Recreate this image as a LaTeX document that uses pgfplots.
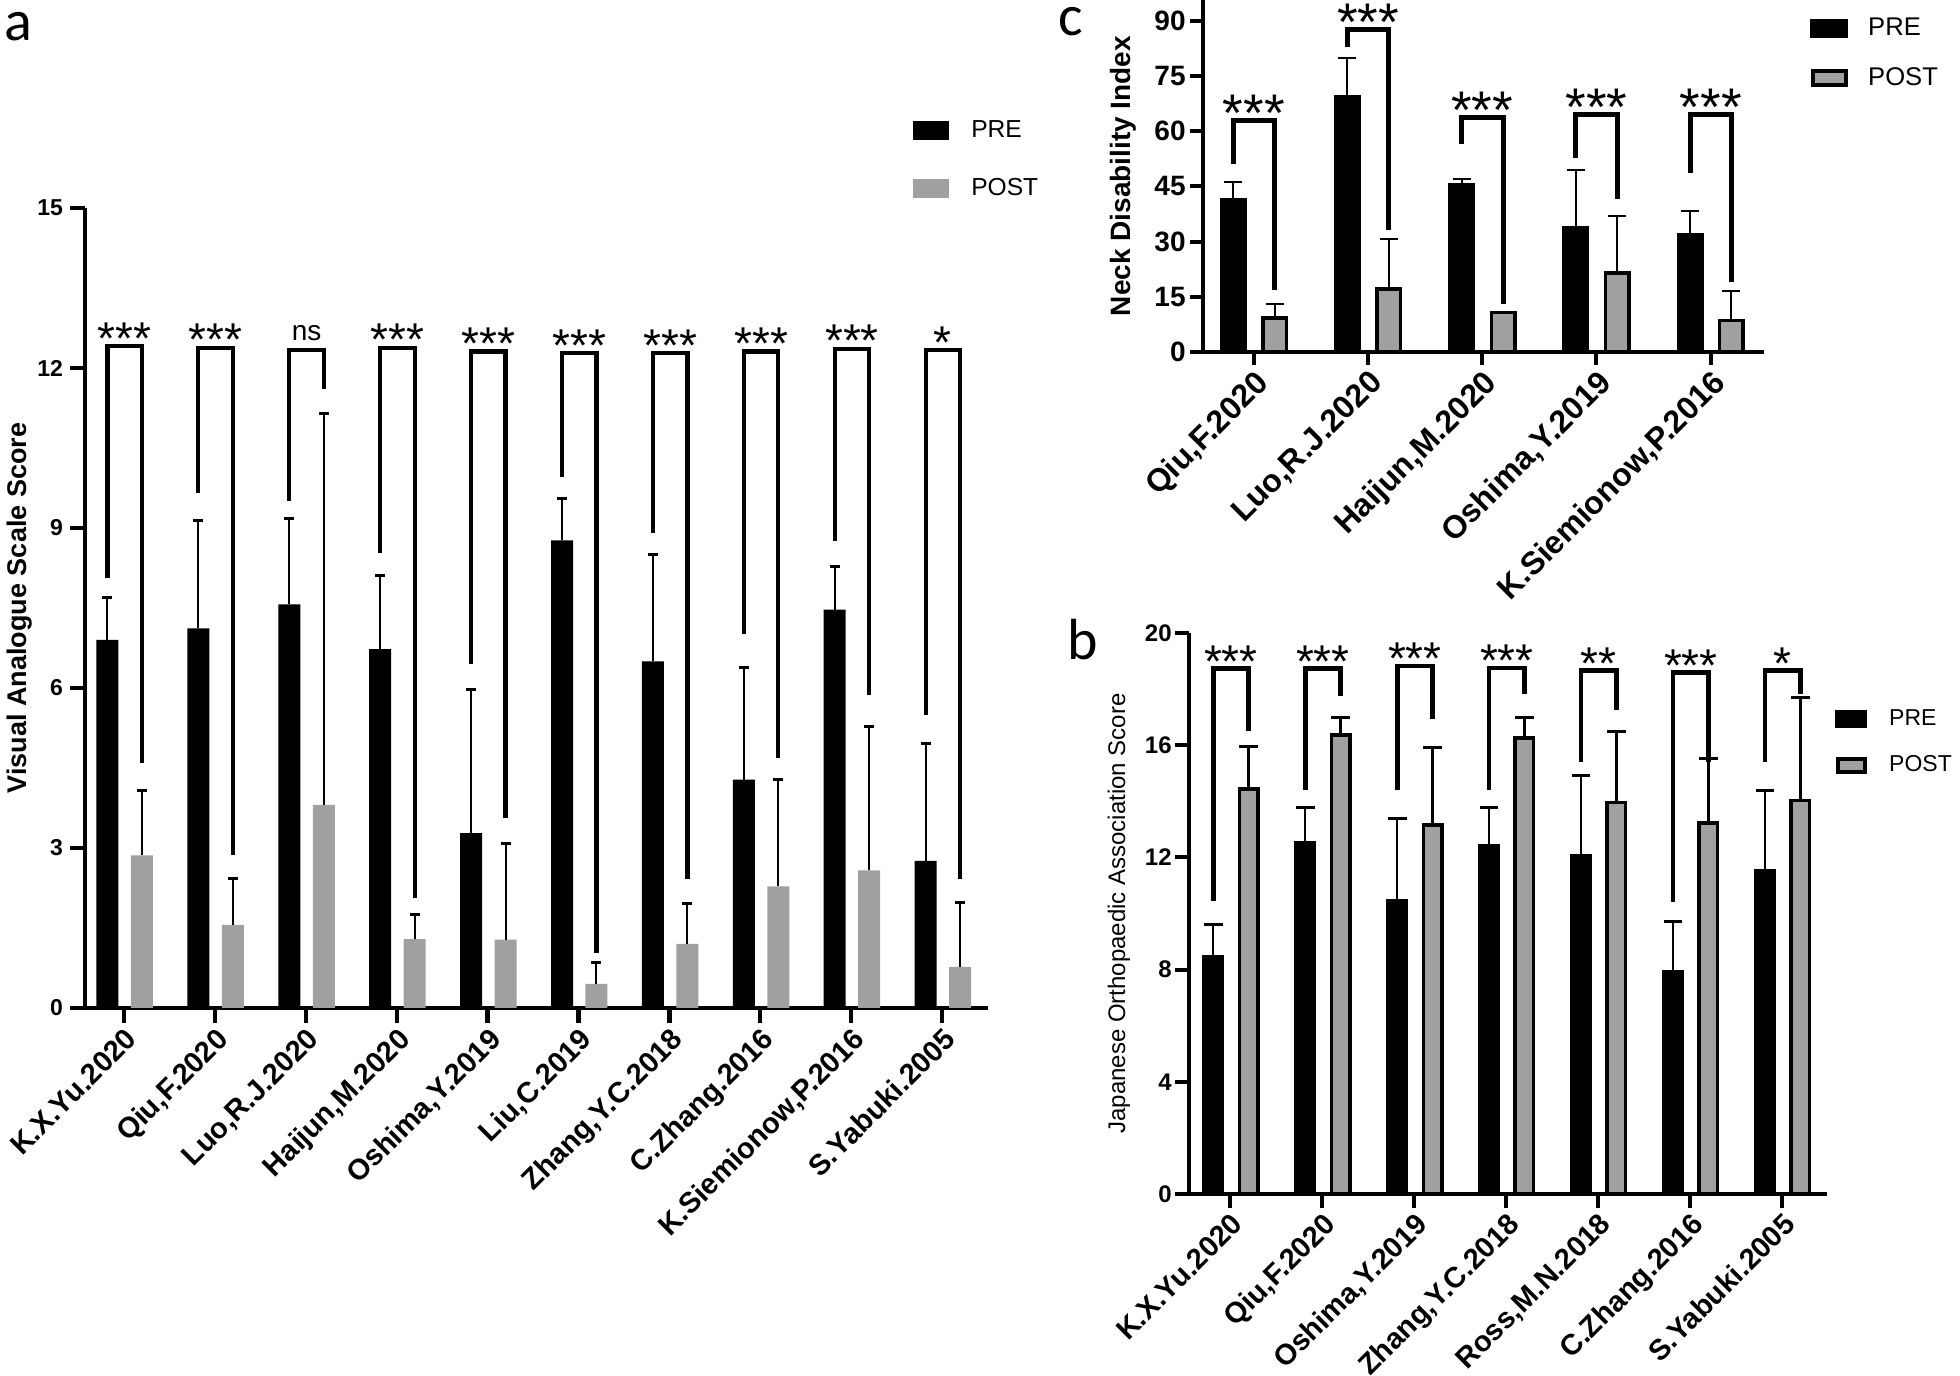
\documentclass[border=0pt]{standalone}
\usepackage{fontspec}
\setmainfont{Liberation Sans}
\newfontfamily\calib{Carlito}
\usepackage{pgfplots}
\pgfplotsset{compat=1.18}
\usepackage{pgfplotstable}
\definecolor{pg}{RGB}{160,160,160}
\newcommand{\fs}[1]{\fontsize{#1}{#1}\selectfont}

\pgfplotstableread{
x pre pretop post posttop
0 6.90 7.69 2.86 4.08
1 7.12 9.14 1.56 2.42
2 7.57 9.18 3.81 11.15
3 6.73 8.10 1.29 1.75
4 3.28 5.98 1.28 3.09
5 8.77 9.56 0.45 0.86
6 6.50 8.51 1.20 1.95
7 4.28 6.39 2.28 4.28
8 7.47 8.28 2.58 5.28
9 2.76 4.96 0.77 1.98
}\tabA

\pgfplotstableread{
x pre pretop post posttop
0 41.5 46.2 9.25 13.0
1 69.4 80.0 17.1 30.8
2 45.5 46.9 10.7 10.9
3 33.7 49.4 21.5 36.9
4 31.9 38.3 8.6 16.6
}\tabC

\pgfplotstableread{
x pre pretop post posttop
0 8.46 9.59 14.43 15.94
1 12.52 13.79 16.36 16.98
2 10.44 13.40 13.15 15.90
3 12.41 13.78 16.26 17.00
4 12.06 14.91 13.96 16.50
5 7.94 9.70 13.23 15.51
6 11.54 14.39 14.03 17.70
}\tabB

% bracket macros: #1 group, #2 top, #3 left leg end, #4 right leg end, #5 yshift, #6 text
\newcommand{\brA}[6]{%
 \draw[line width=2.1pt, line join=miter] ([xshift=-8.25pt]axis cs:#1,#3) -- ([xshift=-8.25pt]axis cs:#1,#2) -- ([xshift=9pt]axis cs:#1,#2) -- ([xshift=9pt]axis cs:#1,#4);
 \node[anchor=base, inner sep=0pt] at ([xshift=0.4pt, yshift=#5]axis cs:#1,#2) {#6};}
\newcommand{\brC}[6]{%
 \draw[line width=2.5pt, line join=miter] ([xshift=-10.25pt]axis cs:#1,#3) -- ([xshift=-10.25pt]axis cs:#1,#2) -- ([xshift=10.45pt]axis cs:#1,#2) -- ([xshift=10.45pt]axis cs:#1,#4);
 \node[anchor=base, inner sep=0pt] at ([xshift=0.1pt, yshift=#5]axis cs:#1,#2) {#6};}
\newcommand{\brB}[6]{%
 \draw[line width=2.2pt, line join=miter] ([xshift=-8.35pt]axis cs:#1,#3) -- ([xshift=-8.35pt]axis cs:#1,#2) -- ([xshift=9.25pt]axis cs:#1,#2) -- ([xshift=9.25pt]axis cs:#1,#4);
 \node[anchor=base, inner sep=0pt] at ([xshift=0.45pt, yshift=#5]axis cs:#1,#2) {#6};}

\newcommand{\stA}{\fs{23}***}
\newcommand{\stC}{\fs{26.5}***}

\begin{document}
\begin{tikzpicture}
\useasboundingbox (0pt,0pt) rectangle (980pt,688pt);

% ---------------- panel a ----------------
\begin{axis}[
 at={(42.5pt,184pt)}, anchor=south west,
 width=451.5pt, height=400pt, scale only axis,
 xmin=-0.429, xmax=9.505, ymin=0, ymax=15,
 axis lines=left, axis line style={-, line width=2.1pt},
 tick align=outside, major tick length=7.5pt,
 tick style={line width=2.1pt, black},
 xtick={0,...,9},
 xticklabels={{K.X.Yu.2020},{Qiu,F.2020},{Luo,R.J.2020},{Haijun,M.2020},{Oshima,Y.2019},{Liu,C.2019},{Zhang,Y.C.2018},{C.Zhang.2016},{K.Siemionow,P.2016},{S.Yabuki.2005}},
 ytick={0,3,...,15},
 /pgf/number format/assume math mode=true,
 yticklabel style={font=\bfseries\fs{11.5}},
 xticklabel style={font=\bfseries\fs{14.5}, rotate=45, anchor=north east, inner sep=1pt},
 ylabel={Visual Analogue Scale Score},
 every axis y label/.style={at={(axis description cs:-0.073,0.5)}, rotate=90, anchor=center, font=\bfseries\fs{13.5}},
 clip=false,
 legend cell align=left,
 legend style={draw=none, fill=none, at={(0.917,1.11)}, anchor=north west, inner sep=0pt, row sep=19pt, column sep=11pt, font=\fs{12.3}, nodes={inner sep=0pt}},
]
\addplot[ybar, bar width=11pt, bar shift=0pt, fill=black, draw=none, forget plot,
 error bars/.cd, y dir=plus, y explicit, error bar style={line width=1pt, black}, error mark options={rotate=90, line width=1.5pt, mark size=2.5pt, black}]
 table[x expr=\thisrow{x}-0.1815, y=pre, y error expr=\thisrow{pretop}-\thisrow{pre}] \tabA;
\addplot[ybar, bar width=11pt, bar shift=0pt, fill=pg, draw=none, forget plot,
 error bars/.cd, y dir=plus, y explicit, error bar style={line width=1pt, black}, error mark options={rotate=90, line width=1.5pt, mark size=2.5pt, black}]
 table[x expr=\thisrow{x}+0.198, y=post, y error expr=\thisrow{posttop}-\thisrow{post}] \tabA;
\addlegendimage{legend image code/.code={\fill[black] (0pt,-4.5pt) rectangle (17.5pt,4.5pt);}}
\addlegendentry{PRE}
\addlegendimage{legend image code/.code={\fill[pg] (0pt,-4.5pt) rectangle (17.5pt,4.5pt);}}
\addlegendentry{POST}
\brA{0}{12.41}{8.07}{4.59}{-4pt}{\stA}
\brA{1}{12.38}{9.65}{2.87}{-4pt}{\stA}
\brA{2}{12.33}{9.50}{11.60}{5pt}{\fs{14}ns}
\brA{3}{12.38}{8.53}{2.06}{-4pt}{\stA}
\brA{4}{12.31}{6.45}{3.56}{-4pt}{\stA}
\brA{5}{12.28}{9.95}{1.03}{-4pt}{\stA}
\brA{6}{12.28}{8.90}{2.41}{-4pt}{\stA}
\brA{7}{12.31}{7.01}{4.68}{-4pt}{\stA}
\brA{8}{12.36}{8.75}{5.86}{-4pt}{\stA}
\brA{9}{12.33}{5.50}{2.41}{-4pt}{\fs{23}*}
\end{axis}

% ---------------- panel c ----------------
\begin{axis}[
 at={(601.5pt,512pt)}, anchor=south west,
 width=280.3pt, height=175.85pt, scale only axis,
 xmin=-0.444, xmax=4.465, ymin=0, ymax=95.6,
 axis lines=left, axis line style={-, line width=2pt},
 tick align=outside, major tick length=6.5pt,
 tick style={line width=2pt, black},
 xtick={0,...,4},
 xticklabels={{Qiu,F.2020},{Luo,R.J.2020},{Haijun,M.2020},{Oshima,Y.2019},{K.Siemionow,P.2016}},
 ytick={0,15,...,90},
 /pgf/number format/assume math mode=true,
 yticklabel style={font=\bfseries\fs{14}, inner sep=2pt},
 xticklabel style={font=\bfseries\fs{16}, rotate=45, anchor=north east, inner sep=1pt},
 ylabel={Neck Disability Index},
 every axis y label/.style={at={(axis description cs:-0.143,0.5)}, rotate=90, anchor=center, font=\bfseries\fs{14}},
 clip=false,
 legend cell align=left,
 legend style={draw=none, fill=none, at={(1.0828,0.9517)}, anchor=north west, inner sep=0pt, row sep=14.75pt, column sep=10pt, font=\fs{12.8}, nodes={inner sep=0pt}},
]
\addplot[ybar, bar width=11.75pt, bar shift=0pt, fill=black, draw=black, line width=1.75pt, forget plot,
 error bars/.cd, y dir=plus, y explicit, error bar style={line width=1pt, black}, error mark options={rotate=90, line width=1pt, mark size=4.5pt, black}]
 table[x expr=\thisrow{x}-0.1795, y=pre, y error expr=\thisrow{pretop}-\thisrow{pre}] \tabC;
\addplot[ybar, bar width=11.75pt, bar shift=0pt, fill=pg, draw=black, line width=1.75pt, forget plot,
 error bars/.cd, y dir=plus, y explicit, error bar style={line width=1pt, black}, error mark options={rotate=90, line width=1pt, mark size=4.5pt, black}]
 table[x expr=\thisrow{x}+0.183, y=post, y error expr=\thisrow{posttop}-\thisrow{post}] \tabC;
\addlegendimage{legend image code/.code={\fill[black] (0pt,-4.5pt) rectangle (18.5pt,4.5pt);}}
\addlegendentry{PRE}
\addlegendimage{legend image code/.code={\filldraw[fill=pg, draw=black, line width=2pt] (1pt,-3.5pt) rectangle (17.5pt,3.5pt);}}
\addlegendentry{POST}
\brC{0}{63.0}{51.0}{16.8}{-5.5pt}{\stC}
\brC{1}{87.7}{83.0}{33.1}{-5.5pt}{\stC}
\brC{2}{63.7}{56.5}{13.0}{-5.5pt}{\stC}
\brC{3}{64.6}{52.6}{41.5}{-5.5pt}{\stC}
\brC{4}{64.6}{48.7}{19.0}{-5.5pt}{\stC}
\end{axis}

% ---------------- panel b ----------------
\begin{axis}[
 at={(594.5pt,91pt)}, anchor=south west,
 width=319pt, height=280.5pt, scale only axis,
 xmin=-0.446, xmax=6.49, ymin=0, ymax=20,
 axis lines=left, axis line style={-, line width=2pt},
 tick align=outside, major tick length=7pt,
 tick style={line width=2pt, black},
 xtick={0,...,6},
 xticklabels={{K.X.Yu.2020},{Qiu,F.2020},{Oshima,Y.2019},{Zhang,Y.C.2018},{Ross,M.N.2018},{C.Zhang.2016},{S.Yabuki.2005}},
 ytick={0,4,...,20},
 /pgf/number format/assume math mode=true,
 yticklabel style={font=\bfseries\fs{12}, inner sep=1.5pt},
 xticklabel style={font=\bfseries\fs{14.5}, rotate=45, anchor=north east, inner sep=1pt},
 ylabel={Japanese Orthopaedic Association Score},
 every axis y label/.style={at={(axis description cs:-0.11,0.5)}, rotate=90, anchor=center, font=\fs{12}},
 clip=false,
 legend cell align=left,
 legend style={draw=none, fill=none, at={(1.0125,0.8645)}, anchor=north west, inner sep=0pt, row sep=13.75pt, column sep=11pt, font=\fs{11.5}, nodes={inner sep=0pt}},
]
\addplot[ybar, bar width=9.25pt, bar shift=0pt, fill=black, draw=black, line width=1.75pt, forget plot,
 error bars/.cd, y dir=plus, y explicit, error bar style={line width=1.1pt, black}, error mark options={rotate=90, line width=1.5pt, mark size=4.6pt, black}]
 table[x expr=\thisrow{x}-0.1816, y=pre, y error expr=\thisrow{pretop}-\thisrow{pre}] \tabB;
\addplot[ybar, bar width=9.25pt, bar shift=0pt, fill=pg, draw=black, line width=1.75pt, forget plot,
 error bars/.cd, y dir=plus, y explicit, error bar style={line width=1.1pt, black}, error mark options={rotate=90, line width=1.5pt, mark size=4.6pt, black}]
 table[x expr=\thisrow{x}+0.2011, y=post, y error expr=\thisrow{posttop}-\thisrow{post}] \tabB;
\addlegendimage{legend image code/.code={\fill[black] (0pt,-4.25pt) rectangle (15.5pt,4.25pt);}}
\addlegendentry{PRE}
\addlegendimage{legend image code/.code={\filldraw[fill=pg, draw=black, line width=2pt] (1pt,-3.25pt) rectangle (14.5pt,3.25pt);}}
\addlegendentry{POST}
\brB{0}{18.73}{10.44}{16.50}{-4.5pt}{\stA}
\brB{1}{18.73}{14.39}{17.77}{-4.5pt}{\stA}
\brB{2}{18.83}{14.41}{16.92}{-4.5pt}{\stA}
\brB{3}{18.76}{14.39}{17.81}{-4.5pt}{\stA}
\brB{4}{18.66}{15.40}{17.25}{-4.5pt}{\fs{23}**}
\brB{5}{18.59}{10.41}{15.40}{-4.5pt}{\stA}
\brB{6}{18.66}{15.40}{17.81}{-4.5pt}{\fs{23}*}
\end{axis}

% panel letters
\node[anchor=base west, inner sep=0pt, font=\calib\fs{29}] at (2pt,667.5pt) {a};
\node[anchor=base west, inner sep=0pt, font=\calib\fs{29}] at (529pt,670pt) {c};
\node[anchor=base west, inner sep=0pt, font=\calib\fs{29}] at (533.5pt,358pt) {b};
\end{tikzpicture}
\end{document}
